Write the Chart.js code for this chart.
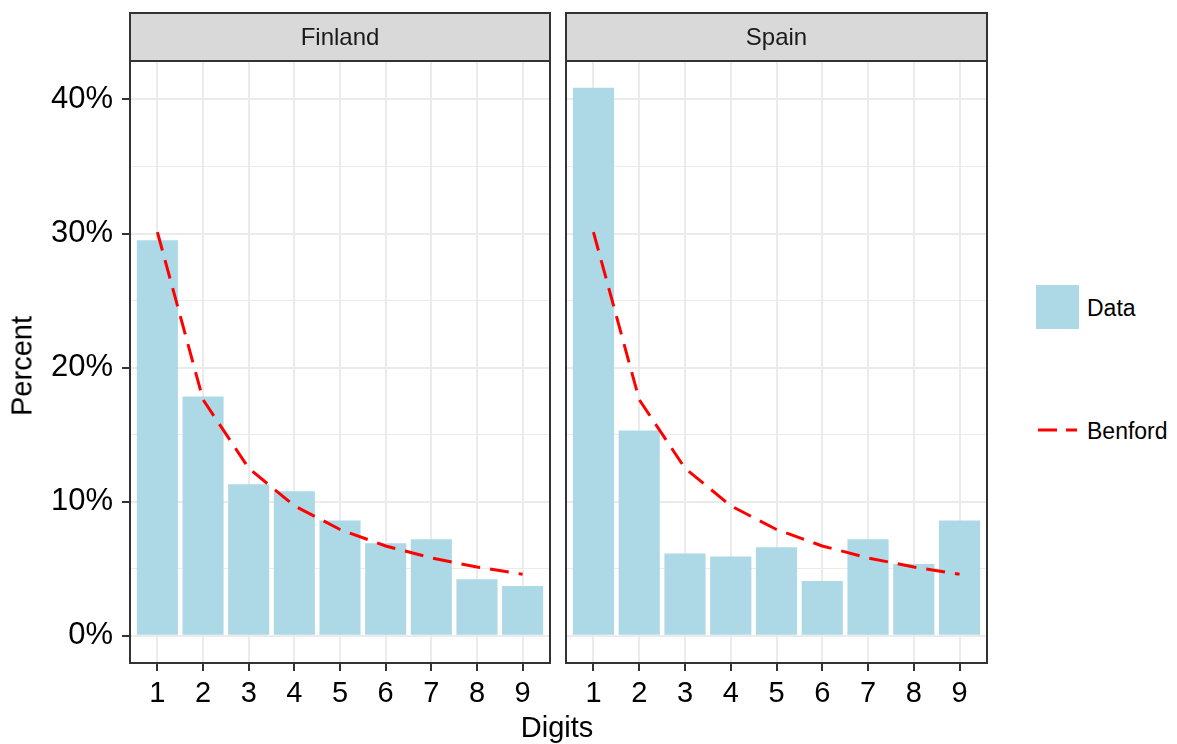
<!DOCTYPE html>
<html>
<head>
<meta charset="utf-8">
<script src="https://cdn.jsdelivr.net/npm/chart.js@4"></script>
<style>
  body { margin: 0; background: #fff; font-family: "Liberation Sans", Arial, sans-serif; }
  #wrap { position: relative; width: 1177px; height: 744px; overflow: hidden; }
  canvas { position: absolute; top: 0; }
  .txt { position: absolute; color: #000; white-space: nowrap; }
</style>
</head>
<body>
<div id="wrap">
  <canvas id="finland" width="558" height="744" style="left:0"></canvas>
  <canvas id="spain" width="440" height="744" style="left:558px"></canvas>

  <div class="txt" style="left:557px; top:737px; font-size:29px; transform:translate(-50%,-80%)">Digits</div>
  <div class="txt" style="left:22px; top:366px; font-size:29px; transform:translate(-50%,-50%) rotate(-90deg)">Percent</div>

  <!-- leyenda -->
  <div style="position:absolute; left:1036px; top:285px; width:43px; height:44px; background:#ADD8E6"></div>
  <div class="txt" style="left:1087px; top:308px; font-size:23px; transform:translateY(-50%)">Data</div>
  <svg style="position:absolute; left:1035px; top:424px" width="46" height="12">
    <line x1="3" y1="6" x2="42" y2="6" stroke="#FF0000" stroke-width="3" stroke-dasharray="19 9"/>
  </svg>
  <div class="txt" style="left:1087px; top:431px; font-size:23px; transform:translateY(-50%)">Benford</div>
</div>

<script>
// Datos
const digitos = [1, 2, 3, 4, 5, 6, 7, 8, 9];
const finlandia = [29.5, 17.85, 11.3, 10.77, 8.6, 6.9, 7.2, 4.2, 3.7];
const espana = [40.88, 15.3, 6.13, 5.9, 6.6, 4.07, 7.2, 5.34, 8.6];
const benford = [30.10, 17.61, 12.49, 9.69, 7.92, 6.69, 5.80, 5.12, 4.58];
const ticksY = [0, 5, 10, 15, 20, 25, 30, 35, 40];

const FUENTE = '"Liberation Sans", Arial, sans-serif';

// Dibuja el marco del panel y la franja gris con el titulo
const marcoPanel = {
  id: 'marcoPanel',
  afterDraw(chart, args, opts) {
    const a = chart.chartArea;
    const c = chart.ctx;
    c.save();
    c.fillStyle = '#D9D9D9';
    c.fillRect(a.left, 13, a.right - a.left, a.top - 13);
    c.strokeStyle = '#333333';
    c.lineWidth = 2;
    c.strokeRect(a.left, 13, a.right - a.left, a.top - 13);
    c.strokeRect(a.left, a.top, a.right - a.left, a.bottom - a.top);
    c.fillStyle = '#1A1A1A';
    c.font = '24px ' + FUENTE;
    c.textAlign = 'center';
    c.textBaseline = 'middle';
    c.fillText(opts.titulo, (a.left + a.right) / 2, (13 + a.top) / 2 + 1);
    c.restore();
  }
};

function crearPanel(id, titulo, valores, conEtiquetas, anchoEje, margenDerecho) {
  const ctx = document.getElementById(id).getContext('2d');
  return new Chart(ctx, {
    data: {
      datasets: [{
        type: 'line',
        label: 'Benford',
        data: digitos.map((d, i) => ({ x: d, y: benford[i] })),
        borderColor: '#FF0000',
        borderWidth: 3,
        borderDash: [19, 10],
        pointRadius: 0,
        fill: false,
        tension: 0,
        order: 0
      }, {
        type: 'bar',
        label: 'Data',
        data: digitos.map((d, i) => ({ x: d, y: valores[i] })),
        backgroundColor: '#ADD8E6',
        borderWidth: 0,
        categoryPercentage: 1,
        barPercentage: 0.9,
        order: 1
      }]
    },
    options: {
      responsive: false,
      animation: false,
      devicePixelRatio: 1,
      layout: { padding: { top: 61, right: margenDerecho, bottom: 0, left: 0 } },
      plugins: {
        legend: { display: false },
        tooltip: { enabled: false },
        marcoPanel: { titulo: titulo }
      },
      scales: {
        x: {
          type: 'linear',
          min: 0.4,
          max: 9.6,
          offset: false,
          afterBuildTicks: s => { s.ticks = digitos.map(v => ({ value: v })); },
          afterFit: s => { s.height = 81; },
          border: { display: false },
          grid: {
            offset: false,
            color: '#EBEBEB',
            lineWidth: 2,
            tickColor: '#333333',
            tickWidth: 2,
            tickLength: 8
          },
          ticks: {
            color: '#000',
            padding: 6,
            maxRotation: 0,
            autoSkip: false,
            font: { family: FUENTE, size: 29 },
            callback: v => String(v)
          }
        },
        y: {
          min: -2.04,
          max: 42.87,
          afterBuildTicks: s => { s.ticks = ticksY.map(v => ({ value: v })); },
          afterFit: s => { s.width = anchoEje; },
          border: { display: false },
          grid: {
            color: '#EBEBEB',
            lineWidth: ctx => (ctx.tick && ctx.tick.value % 10 === 0) ? 2 : 1,
            tickColor: ctx => (conEtiquetas && ctx.tick && ctx.tick.value % 10 === 0) ? '#333333' : 'rgba(0,0,0,0)',
            tickWidth: 2,
            tickLength: 8
          },
          ticks: {
            display: conEtiquetas,
            color: '#000',
            padding: 9,
            autoSkip: false,
            font: { family: FUENTE, size: 31 },
            callback: v => (v % 10 === 0 ? v + '%' : '')
          }
        }
      }
    },
    plugins: [marcoPanel]
  });
}

crearPanel('finland', 'Finland', finlandia, true, 130, 8);
crearPanel('spain', 'Spain', espana, false, 8, 11);
</script>
</body>
</html>
